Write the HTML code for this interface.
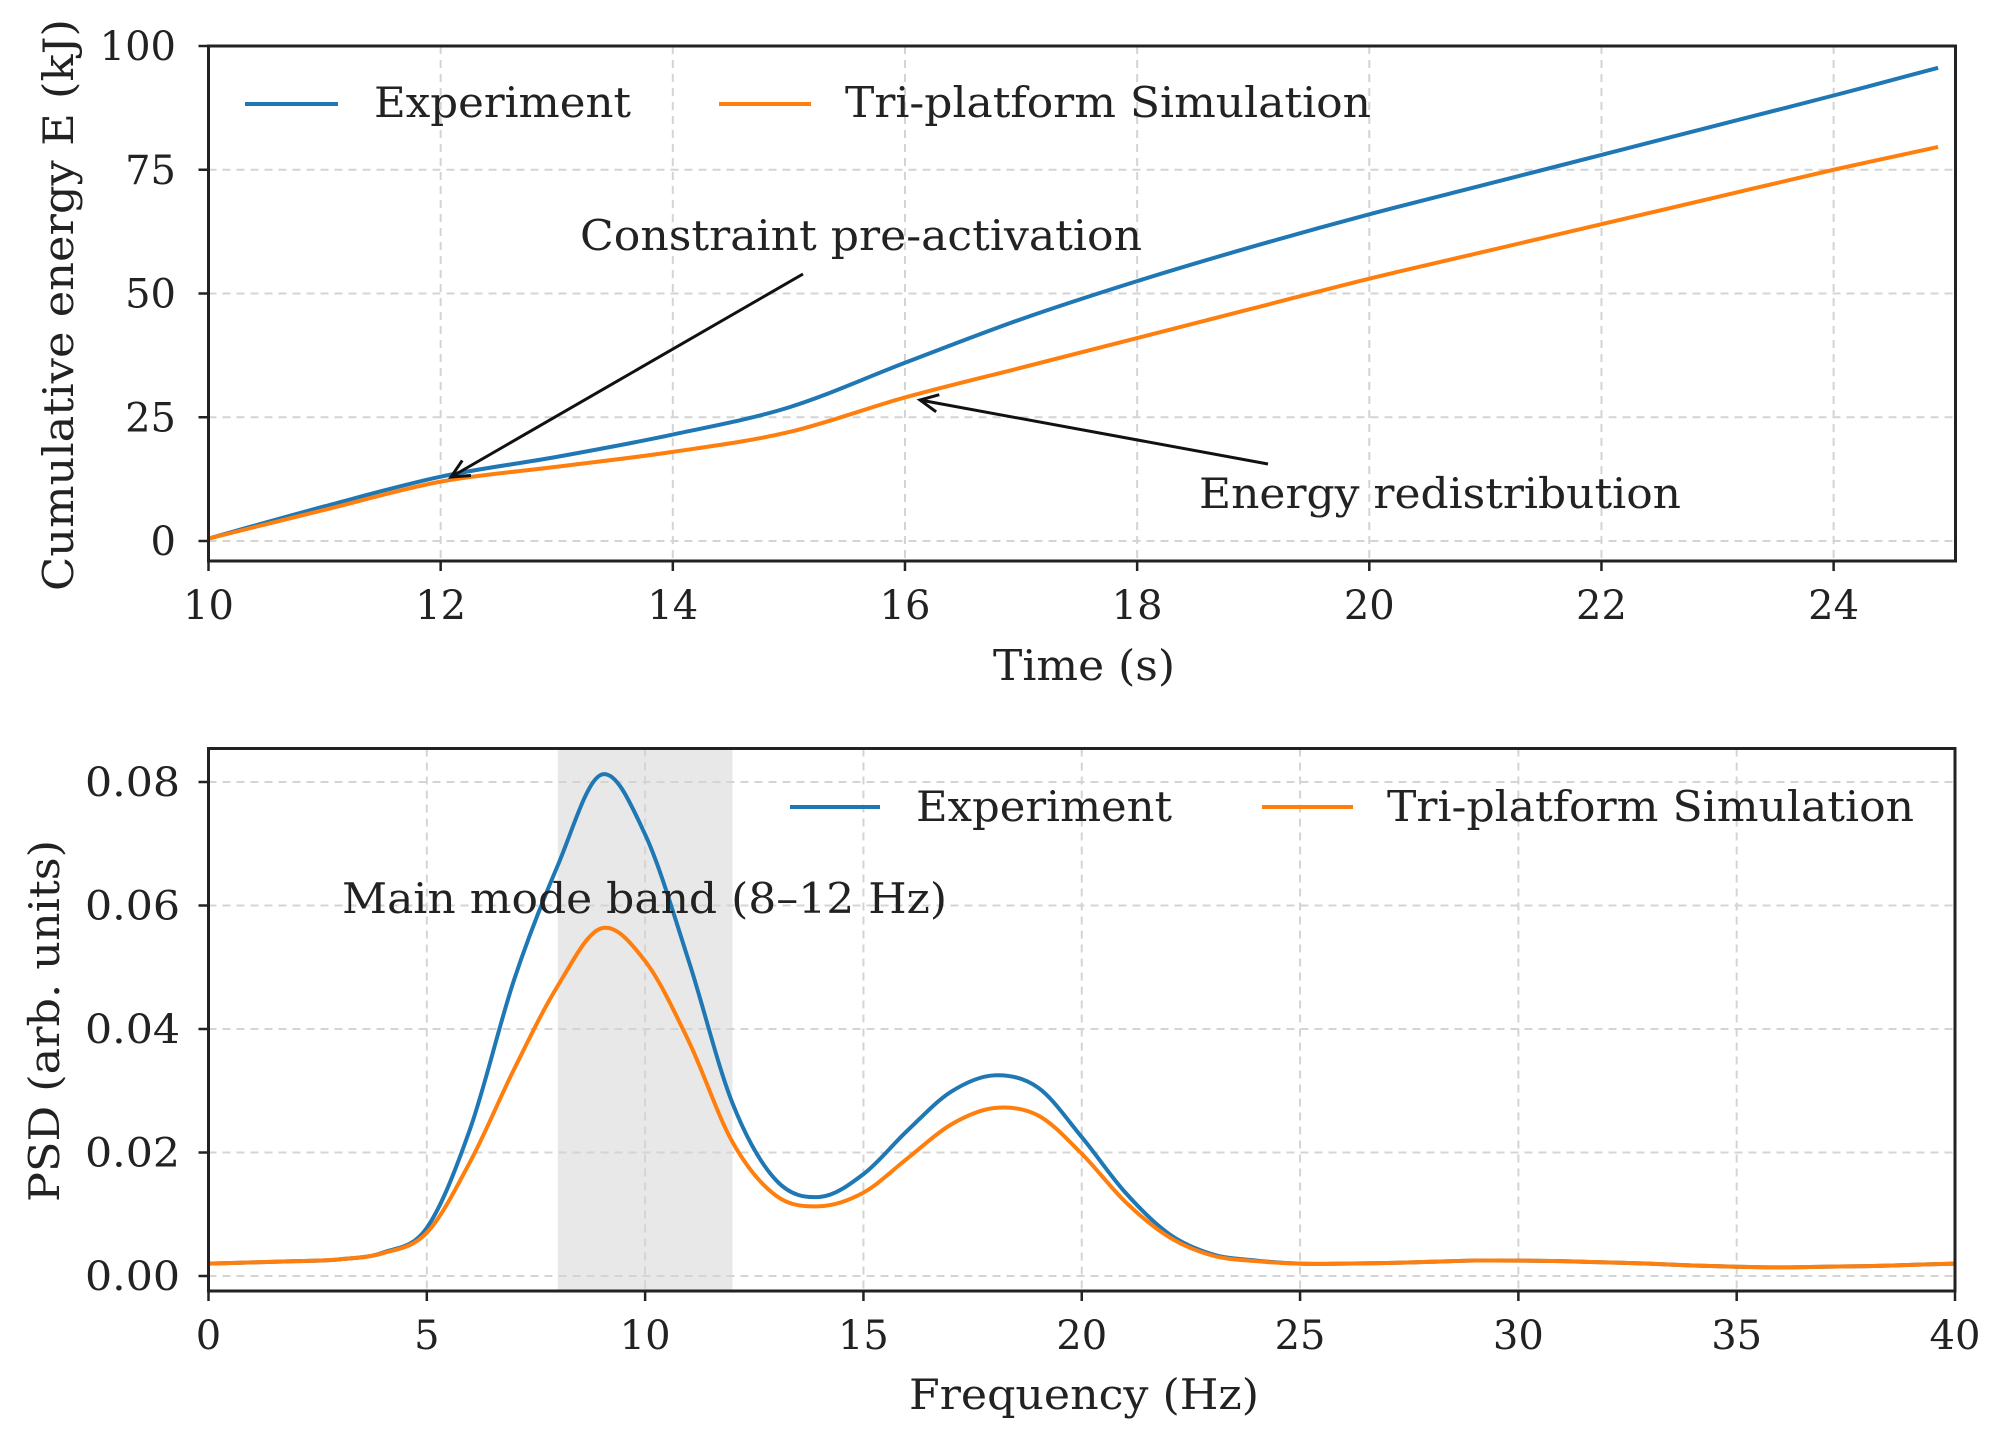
<!DOCTYPE html>
<html><head><meta charset="utf-8"><style>
html,body{margin:0;padding:0;background:#fff}
svg text{font-family:"DejaVu Serif","Liberation Serif",serif;fill:#222}
</style></head><body>
<svg id="fig" width="2002" height="1440" viewBox="0 0 2002 1440" xmlns="http://www.w3.org/2000/svg"></svg>
<script>
const timeX=[10,11,12,13,14,15,16,17,18,19,20,21,22,23,24,24.9];
const energyExp=[0.5,7,13,17,21.5,27,36,44.8,52.5,59.5,66,72,78,84,90,95.6];
const energySim=[0.5,6.3,12,15,18,22,29,35,41,47,53,58.5,64,69.5,75,79.6];
const timeTicks=[10,12,14,16,18,20,22,24];
const energyTicks=[0,25,50,75,100];
const freqX=[0,1,2,3,4,5,6,7,8,9,10,11,12,13,14,15,16,17,18,19,20,21,22,23,24,25,26,27,28,29,30,31,32,33,34,35,36,37,38,39,40];
const psdExp=[0.002,0.0022,0.0024,0.0027,0.0038,0.0078,0.024,0.048,0.0665,0.0812,0.0715,0.051,0.028,0.0155,0.0128,0.0165,0.0235,0.0298,0.0325,0.0305,0.0225,0.0135,0.0068,0.0035,0.0025,0.002,0.002,0.0021,0.0023,0.0025,0.0025,0.0024,0.0022,0.002,0.0017,0.0015,0.0014,0.0015,0.0016,0.0018,0.002];
const psdSim=[0.002,0.0022,0.0024,0.0027,0.0037,0.007,0.0186,0.0335,0.047,0.0563,0.051,0.038,0.0217,0.013,0.0113,0.0135,0.019,0.0245,0.0272,0.026,0.0198,0.012,0.0063,0.0033,0.0024,0.002,0.002,0.0021,0.0023,0.0025,0.0025,0.0024,0.0022,0.002,0.0017,0.0015,0.0014,0.0015,0.0016,0.0018,0.002];
const freqTicks=[0,5,10,15,20,25,30,35,40];
const psdTicks=[0,0.02,0.04,0.06,0.08];
const psdTickLabels=["0.00","0.02","0.04","0.06","0.08"];

const NS="http://www.w3.org/2000/svg";
const svg=document.getElementById('fig');
function mk(tag,attrs,parent){const e=document.createElementNS(NS,tag);for(const k in attrs)e.setAttribute(k,attrs[k]);(parent||svg).appendChild(e);return e;}
function txt(s,attrs,parent){const e=mk('text',attrs,parent);e.textContent=s;return e;}
function smoothPath(xs,ys,sx,sy){
  const p=xs.map((x,i)=>[sx(x),sy(ys[i])]);
  let d=`M${p[0][0]},${p[0][1]}`;
  for(let i=0;i<p.length-1;i++){
    const p0=p[i-1]||p[i],p1=p[i],p2=p[i+1],p3=p[i+2]||p2;
    const c1=[p1[0]+(p2[0]-p0[0])/6,p1[1]+(p2[1]-p0[1])/6];
    const c2=[p2[0]-(p3[0]-p1[0])/6,p2[1]-(p3[1]-p1[1])/6];
    d+=` C${c1[0]},${c1[1]} ${c2[0]},${c2[1]} ${p2[0]},${p2[1]}`;
  }
  return d;
}
function linePath(xs,ys,sx,sy){return xs.map((x,i)=>(i?'L':'M')+sx(x)+','+sy(ys[i])).join(' ');}

// ---------- top panel ----------
const L=208.5,R=1955.5;
const T1=46,B1=561;
const sx1=x=>L+(x-10)*(R-L)/15.05;
const sy1=v=>541-v*4.95;
const g1=mk('g',{});


timeTicks.forEach(t=>{
  const gl=mk('line',{x1:sx1(t),x2:sx1(t),y1:T1,y2:B1,stroke:'#d4d4d4','stroke-width':2,'stroke-dasharray':'8,6'},g1);
  
  
  mk('line',{x1:sx1(t),x2:sx1(t),y1:B1,y2:B1+10,stroke:'#222','stroke-width':2.5},g1);
  const tl=txt(String(t),{x:sx1(t),y:619,'text-anchor':'middle','font-size':40},g1);
  
  
});
energyTicks.forEach(v=>{
  const gl=mk('line',{x1:L,x2:R,y1:sy1(v),y2:sy1(v),stroke:'#d4d4d4','stroke-width':2,'stroke-dasharray':'8,6'},g1);
  
  
  mk('line',{x1:L-10,x2:L,y1:sy1(v),y2:sy1(v),stroke:'#222','stroke-width':2.5},g1);
  const tl=txt(String(v),{x:176,y:sy1(v)+14,'text-anchor':'end','font-size':40},g1);
  
  
});
const e1=mk('path',{d:smoothPath(timeX,energyExp,sx1,sy1),fill:'none',stroke:'#1f77b4','stroke-width':4},g1);


const e2=mk('path',{d:smoothPath(timeX,energySim,sx1,sy1),fill:'none',stroke:'#ff7f0e','stroke-width':4},g1);


const f1=mk('rect',{x:L,y:T1,width:R-L,height:B1-T1,fill:'none',stroke:'#222','stroke-width':3},g1);


mk('line',{x1:245,x2:338,y1:104,y2:104,stroke:'#1f77b4','stroke-width':4},g1);
const lt1=txt('Experiment',{x:374,y:117,'font-size':42,textLength:257,lengthAdjust:'spacingAndGlyphs'},g1);


mk('line',{x1:719,x2:811,y1:104,y2:104,stroke:'#ff7f0e','stroke-width':4},g1);
const lt2=txt('Tri-platform Simulation',{x:845,y:117,'font-size':42,textLength:526,lengthAdjust:'spacingAndGlyphs'},g1);


function arrow(x1,y1,x2,y2,name){
  const ag=mk('g',{},g1);
  
  
  mk('line',{x1,y1,x2,y2,stroke:'#111','stroke-width':3},ag);
  const a=Math.atan2(y2-y1,x2-x1),h=20,w=0.45;
  const p1=[x2-h*Math.cos(a-w),y2-h*Math.sin(a-w)],p2=[x2-h*Math.cos(a+w),y2-h*Math.sin(a+w)];
  mk('polyline',{points:`${p1} ${x2},${y2} ${p2}`,fill:'none',stroke:'#111','stroke-width':3},ag);
}
arrow(803,274,451,477,'constraint-arrow');
arrow(1268,464,920,400,'redistribution-arrow');
const a1=txt('Constraint pre-activation',{x:580,y:250,'font-size':42,textLength:562,lengthAdjust:'spacingAndGlyphs'},g1);


const a2=txt('Energy redistribution',{x:1199,y:508,'font-size':42,textLength:482,lengthAdjust:'spacingAndGlyphs'},g1);


const xt1=txt('Time (s)',{x:1084,y:680,'text-anchor':'middle','font-size':42,textLength:182,lengthAdjust:'spacingAndGlyphs'},g1);


const yt1=txt('Cumulative energy E (kJ)',{x:0,y:0,'text-anchor':'middle','font-size':42,textLength:572,lengthAdjust:'spacingAndGlyphs',transform:'translate(73,305) rotate(-90)'},g1);



// ---------- bottom panel ----------
const T2=748.5,B2=1291;
const sx2=f=>L+f*(1955-L)/40;
const sy2=v=>1276-v*6175;
const g2=mk('g',{});


const band=mk('rect',{x:sx2(8),y:T2,width:sx2(12)-sx2(8),height:B2-T2,fill:'#e8e8e8'},g2);


freqTicks.forEach(t=>{
  const gl=mk('line',{x1:sx2(t),x2:sx2(t),y1:T2,y2:B2,stroke:'#d4d4d4','stroke-width':2,'stroke-dasharray':'8,6'},g2);
  
  
  mk('line',{x1:sx2(t),x2:sx2(t),y1:B2,y2:B2+10,stroke:'#222','stroke-width':2.5},g2);
  const tl=txt(String(t),{x:sx2(t),y:1349,'text-anchor':'middle','font-size':40},g2);
  
  
});
psdTicks.forEach((v,i)=>{
  const gl=mk('line',{x1:L,x2:1955,y1:sy2(v),y2:sy2(v),stroke:'#d4d4d4','stroke-width':2,'stroke-dasharray':'8,6'},g2);
  
  
  mk('line',{x1:L-10,x2:L,y1:sy2(v),y2:sy2(v),stroke:'#222','stroke-width':2.5},g2);
  const tl=txt(psdTickLabels[i],{x:180,y:sy2(v)+14,'text-anchor':'end','font-size':40,textLength:95,lengthAdjust:'spacingAndGlyphs'},g2);
  
  
});
const p1=mk('path',{d:smoothPath(freqX,psdExp,sx2,sy2),fill:'none',stroke:'#1f77b4','stroke-width':4},g2);


const p2=mk('path',{d:smoothPath(freqX,psdSim,sx2,sy2),fill:'none',stroke:'#ff7f0e','stroke-width':4},g2);


const f2=mk('rect',{x:L,y:T2,width:1955-L,height:B2-T2,fill:'none',stroke:'#222','stroke-width':3},g2);


mk('line',{x1:790,x2:880,y1:807,y2:807,stroke:'#1f77b4','stroke-width':4},g2);
const lb1=txt('Experiment',{x:916,y:821,'font-size':42,textLength:256,lengthAdjust:'spacingAndGlyphs'},g2);


mk('line',{x1:1262,x2:1353,y1:807,y2:807,stroke:'#ff7f0e','stroke-width':4},g2);
const lb2=txt('Tri-platform Simulation',{x:1387,y:821,'font-size':42,textLength:527,lengthAdjust:'spacingAndGlyphs'},g2);


const bt=txt('Main mode band (8–12 Hz)',{x:342,y:913,'font-size':42,textLength:605,lengthAdjust:'spacingAndGlyphs'},g2);


const xt2=txt('Frequency (Hz)',{x:1084,y:1409,'text-anchor':'middle','font-size':42,textLength:350,lengthAdjust:'spacingAndGlyphs'},g2);


const yt2=txt('PSD (arb. units)',{x:0,y:0,'text-anchor':'middle','font-size':42,textLength:362,lengthAdjust:'spacingAndGlyphs',transform:'translate(59,1021) rotate(-90)'},g2);


</script>
</body></html>
